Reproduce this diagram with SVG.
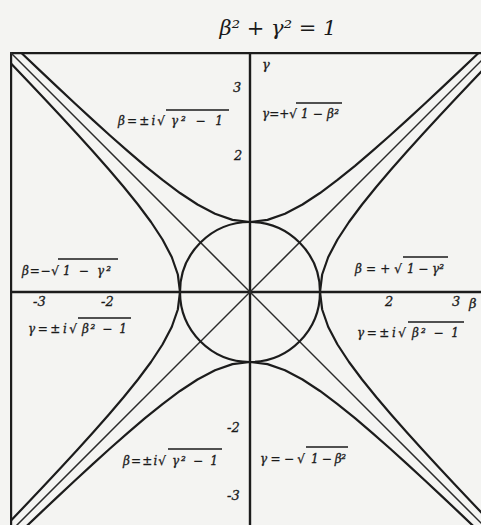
<svg xmlns="http://www.w3.org/2000/svg" xmlns:xlink="http://www.w3.org/1999/xlink" width="481" height="525" viewBox="0 0 481 525">
  <style>
    .ax { stroke: #1c1c1c; stroke-width: 2.4; fill: none; }
    .hy { stroke: #1c1c1c; stroke-width: 2.2; fill: none; stroke-linejoin: round; }
    .as { stroke: #2a2a2a; stroke-width: 1.5; fill: none; }
    .lb { font-family: "DejaVu Serif", "Liberation Serif", serif; font-style: italic; font-size: 12px; fill: #1a1a1a; stroke: #1a1a1a; stroke-width: 0.3; }
    .tk { font-family: "DejaVu Serif", "Liberation Serif", serif; font-style: italic; font-size: 13px; fill: #1a1a1a; stroke: #1a1a1a; stroke-width: 0.3; }
    .bar { stroke: #1a1a1a; stroke-width: 1.5; }
  </style>
  <defs>
    <clipPath id="frame"><rect x="10" y="52" width="471" height="473"/></clipPath>
    <path id="br" d="M271.67,-262.5 L254.81,-245 L238.03,-227.5 L221.36,-210 L204.83,-192.5 L188.48,-175 L172.35,-157.5 L156.53,-140 L141.09,-122.5 L126.2,-105 L112.06,-87.5 L98.99,-70 L87.5,-52.5 L78.26,-35 L72.16,-17.5 L70,0 L72.16,17.5 L78.26,35 L87.5,52.5 L98.99,70 L112.06,87.5 L126.2,105 L141.09,122.5 L156.53,140 L172.35,157.5 L188.48,175 L204.83,192.5 L221.36,210 L238.03,227.5 L254.81,245 L271.67,262.5"/>
  </defs>
  <rect width="481" height="525" fill="#f4f4f2"/>
  <text x="278" y="35" text-anchor="middle" font-family="DejaVu Serif, Liberation Serif, serif" font-style="italic" font-size="21" fill="#1a1a1a">β² + γ² = 1</text>

  <g id="connectors" clip-path="url(#frame)">
    <g id="axes">
      <line class="ax" x1="10" y1="53" x2="481" y2="53"/>
      <line class="ax" x1="11" y1="52" x2="11" y2="525"/>
      <line class="ax" x1="250" y1="52" x2="250" y2="525"/>
      <line class="ax" x1="10" y1="292" x2="481" y2="292"/>
    </g>
    <g id="asymptotes">
      <line class="as" x1="0" y1="42" x2="500" y2="542"/>
      <line class="as" x1="0" y1="542" x2="500" y2="42"/>
    </g>
    <g id="circle">
      <circle class="hy" cx="250" cy="292" r="70"/>
    </g>
    <g id="hyperbolas">
      <use xlink:href="#br" class="hy" transform="translate(250,292)"/>
      <use xlink:href="#br" class="hy" transform="translate(250,292) rotate(90)"/>
      <use xlink:href="#br" class="hy" transform="translate(250,292) rotate(180)"/>
      <use xlink:href="#br" class="hy" transform="translate(250,292) rotate(270)"/>
    </g>
  </g>

  <g id="ticks">
    <text class="tk" x="262" y="69">γ</text>
    <text class="tk" x="469" y="308">β</text>
    <text class="tk" x="233" y="92">3</text>
    <text class="tk" x="234" y="160">2</text>
    <text class="tk" x="227" y="432">-2</text>
    <text class="tk" x="227" y="500">-3</text>
    <text class="tk" x="33" y="306">-3</text>
    <text class="tk" x="101" y="306">-2</text>
    <text class="tk" x="385" y="306">2</text>
    <text class="tk" x="452" y="306">3</text>
  </g>

  <g id="label-tl">
    <text class="lb" x="118" y="125" textLength="47" lengthAdjust="spacing">β=±i√</text>
    <text class="lb" x="171" y="125" textLength="52" lengthAdjust="spacing">γ² − 1</text>
    <line class="bar" x1="166" y1="110" x2="229" y2="110"/>
  </g>
  <g id="label-tr">
    <text class="lb" x="262" y="118" textLength="35" lengthAdjust="spacing">γ=+√</text>
    <text class="lb" x="301" y="118" textLength="38" lengthAdjust="spacing">1 − β²</text>
    <line class="bar" x1="296" y1="103" x2="342" y2="103"/>
  </g>
  <g id="label-l">
    <text class="lb" x="22" y="275" textLength="37" lengthAdjust="spacing">β=−√</text>
    <text class="lb" x="63" y="275" textLength="48" lengthAdjust="spacing">1 − γ²</text>
    <line class="bar" x1="58" y1="259" x2="118" y2="259"/>
  </g>
  <g id="label-lb">
    <text class="lb" x="28" y="333" textLength="49" lengthAdjust="spacing">γ=±i√</text>
    <text class="lb" x="82" y="333" textLength="45" lengthAdjust="spacing">β² − 1</text>
    <line class="bar" x1="78" y1="318" x2="131" y2="318"/>
  </g>
  <g id="label-r">
    <text class="lb" x="355" y="273" textLength="47" lengthAdjust="spacing">β=+√</text>
    <text class="lb" x="407" y="273" textLength="37" lengthAdjust="spacing">1 − γ²</text>
    <line class="bar" x1="403" y1="257" x2="448" y2="257"/>
  </g>
  <g id="label-rb">
    <text class="lb" x="357" y="337" textLength="49" lengthAdjust="spacing">γ=±i√</text>
    <text class="lb" x="412" y="337" textLength="47" lengthAdjust="spacing">β² − 1</text>
    <line class="bar" x1="408" y1="322" x2="464" y2="322"/>
  </g>
  <g id="label-bl">
    <text class="lb" x="123" y="465" textLength="43" lengthAdjust="spacing">β=±i√</text>
    <text class="lb" x="172" y="465" textLength="46" lengthAdjust="spacing">γ² − 1</text>
    <line class="bar" x1="168" y1="449" x2="222" y2="449"/>
  </g>
  <g id="label-br">
    <text class="lb" x="260" y="463" textLength="45" lengthAdjust="spacing">γ=−√</text>
    <text class="lb" x="311" y="463" textLength="35" lengthAdjust="spacing">1 − β²</text>
    <line class="bar" x1="306" y1="447" x2="348" y2="447"/>
  </g>
</svg>
